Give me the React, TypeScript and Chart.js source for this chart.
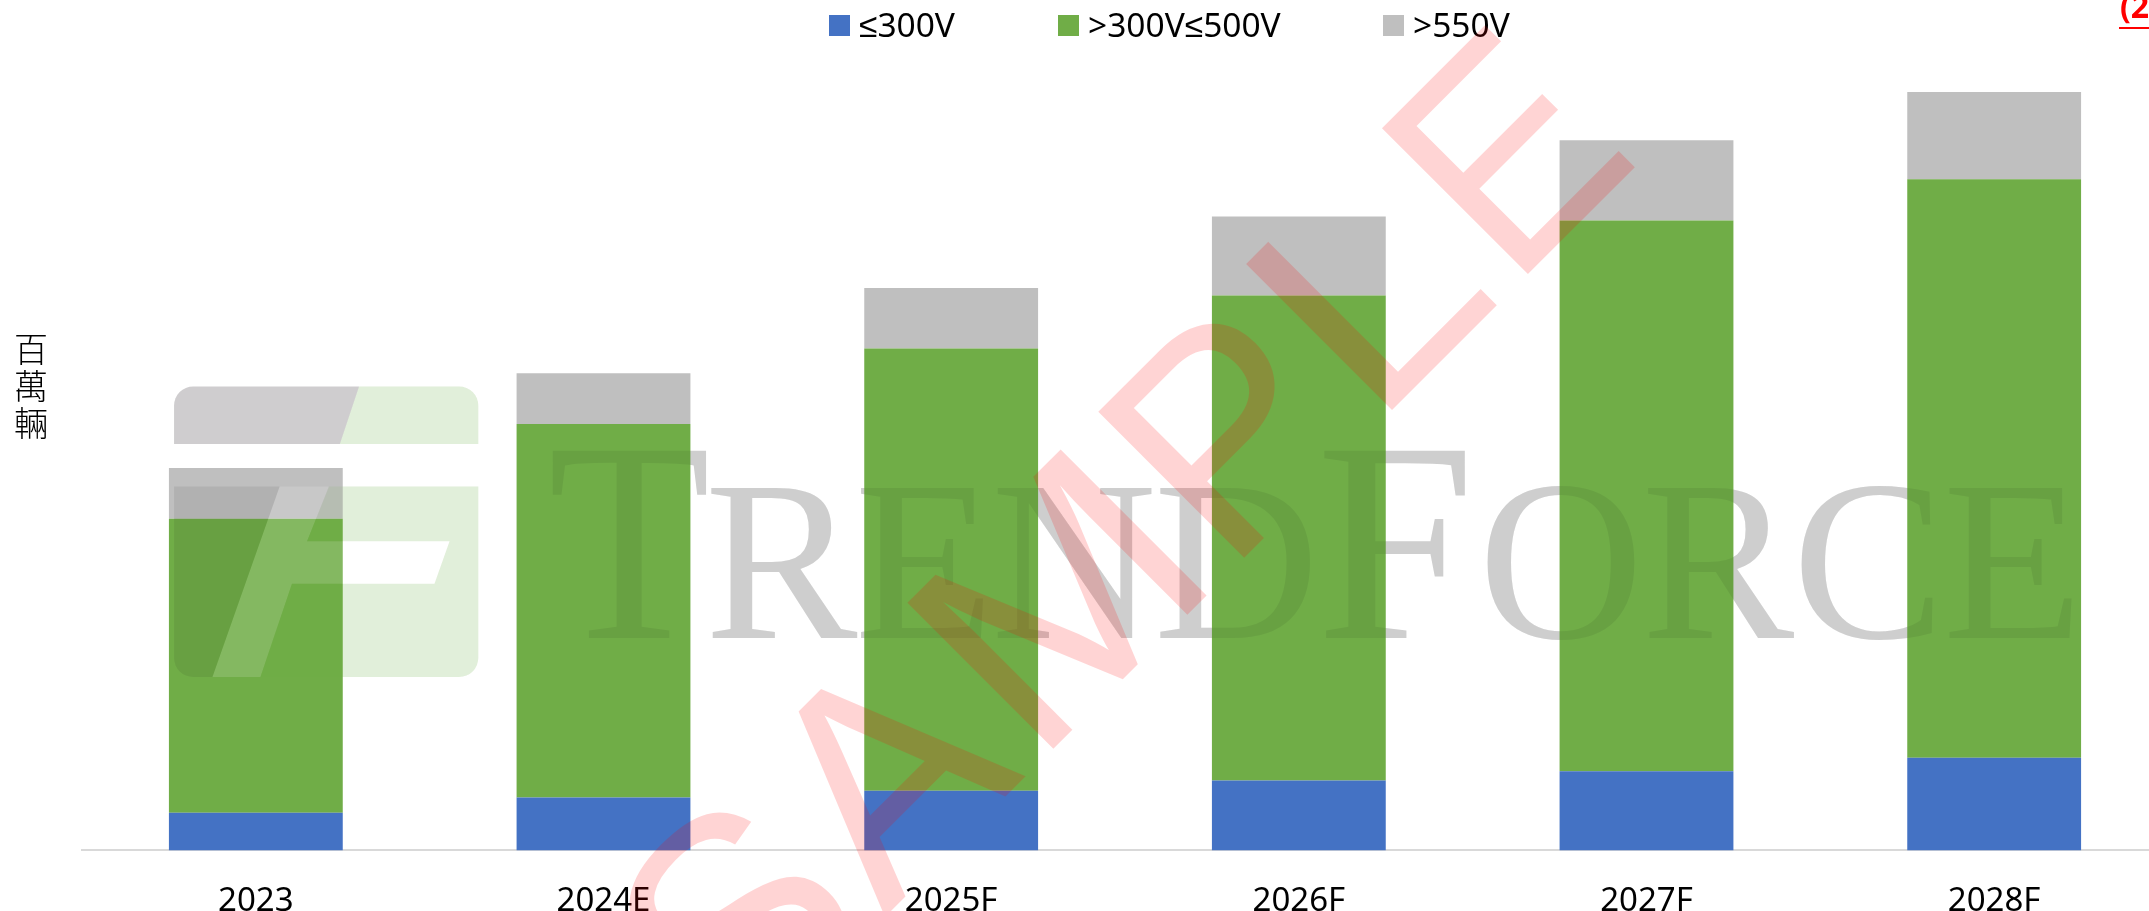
import React, { useEffect, useRef } from "react";
import { Chart, registerables } from "chart.js";

Chart.register(...registerables);

const categories = ["2023", "2024E", "2025F", "2026F", "2027F", "2028F"];
const low = [1.49, 2.09, 2.36, 2.77, 3.13, 3.67];
const mid = [11.63, 14.78, 17.5, 19.18, 21.79, 22.88];
const high = [2.01, 2.01, 2.39, 3.13, 3.18, 3.45];
const seriesNames = ["≤300V", ">300V≤500V", ">550V"];
const seriesColors = ["#4472c4", "#70ad47", "#bfbfbf"];
const axisTitle = ["百", "萬", "輛"];
const brand = ["T", "REND", "F", "ORCE"];
const stamp = ["S", "A", "M", "P", "L", "E"];
const clippedNote = "(2";

const SANS = '"Noto Sans", sans-serif';
const S = 2149 / 1568;

function poly(ctx: CanvasRenderingContext2D, pts: number[][], fill: string) {
  // points are [x, y, cornerRadius?] in the shrunk picture's units
  const n = pts.length;
  ctx.beginPath();
  const start = pts[0];
  const prev = pts[n - 1];
  ctx.moveTo(((start[0] + prev[0]) / 2) * S, ((start[1] + prev[1]) / 2) * S);
  for (let i = 0; i < n; i++) {
    const a = pts[i];
    const b = pts[(i + 1) % n];
    ctx.arcTo(a[0] * S, a[1] * S, ((a[0] + b[0]) / 2) * S, ((a[1] + b[1]) / 2) * S, (a[2] || 0) * S);
  }
  ctx.closePath();
  ctx.fillStyle = fill;
  ctx.fill();
}

const logoGrayShapes = [
  [[127, 282, 14], [262, 282], [248, 324], [127, 324]],
  [[127, 355], [204, 355], [155, 494], [127, 494, 14]],
];
const logoGreenShapes = [
  [[262, 282], [349, 282, 14], [349, 324], [248, 324]],
  [[240, 355], [349, 355], [349, 494, 14], [190, 494], [213, 426], [317, 426], [328, 395], [224, 395]],
];
const logoStem = [[204, 355], [240, 355], [224, 395], [328, 395], [317, 426], [213, 426], [190, 494], [155, 494]];

function drawBrand(ctx: CanvasRenderingContext2D) {
  const tweak = [0, -14, -10, -3];
  const spacing = ["0px", "-3px", "0px", "-2px"];
  let x = 548;
  brand.forEach((t, i) => {
    const big = t.length === 1;
    ctx.font = `${big ? 286 : 229}px "Liberation Serif"`;
    (ctx as any).letterSpacing = "-4px";
    const adv = ctx.measureText(t).width;
    (ctx as any).letterSpacing = spacing[i];
    if (i === 0) {
      ctx.save();
      ctx.translate(x, 638);
      ctx.scale(0.93, 1);
      ctx.fillText(t, 0, 0);
      ctx.restore();
    } else {
      ctx.fillText(t, x + tweak[i], 638);
    }
    x += adv;
  });
  (ctx as any).letterSpacing = "0px";
}

const extras = {
  id: "extras",
  beforeDatasetsDraw(chart: any) {
    const ctx: CanvasRenderingContext2D = chart.ctx;
    ctx.save();
    logoGreenShapes.forEach((s) => poly(ctx, s, "rgba(112,173,71,0.11)"));
    ctx.globalCompositeOperation = "multiply";
    logoGrayShapes.forEach((s) => poly(ctx, s, "rgb(224,222,224)"));
    ctx.fillStyle = "rgb(222,222,222)";
    ctx.textBaseline = "alphabetic";
    drawBrand(ctx);
    ctx.restore();
  },
  afterDraw(chart: any) {
    const ctx: CanvasRenderingContext2D = chart.ctx;
    ctx.save();
    // legend
    const xs = [829, 1058, 1383];
    ctx.font = `33.5px ${SANS}`;
    ctx.textBaseline = "middle";
    ctx.textAlign = "left";
    chart.data.datasets.forEach((d: any, i: number) => {
      ctx.fillStyle = d.backgroundColor;
      ctx.fillRect(xs[i], 15, 21, 21);
      ctx.fillStyle = "#000";
      ctx.fillText(d.label, xs[i] + 30, 27);
    });
    // stacked axis title
    ctx.font = `300 34px "Noto Sans CJK TC"`;
    ctx.textAlign = "center";
    ctx.fillStyle = "#000";
    axisTitle.forEach((c, i) => ctx.fillText(c, 31, 349 + i * 37));
    // clipped red note
    ctx.font = `bold 32px ${SANS}`;
    ctx.textAlign = "left";
    ctx.textBaseline = "alphabetic";
    ctx.fillStyle = "#f00";
    ctx.fillText(clippedNote, 2120, 18);
    ctx.fillRect(2119, 27, 31, 2);
    // logo and brand over the bars
    logoGreenShapes.forEach((s) => poly(ctx, s, "rgba(112,173,71,0.1)"));
    poly(ctx, logoStem, "rgba(255,255,255,0.14)");
    ctx.globalCompositeOperation = "multiply";
    logoGrayShapes.forEach((s) => poly(ctx, s, "rgb(236,236,236)"));
    ctx.fillStyle = "rgb(237,237,237)";
    drawBrand(ctx);
    ctx.globalCompositeOperation = "source-over";
    // stamp
    ctx.translate(1528, 274);
    ctx.rotate(-Math.PI / 4);
    ctx.font = `300px "Liberation Sans"`;
    ctx.textAlign = "left";
    ctx.fillStyle = "rgba(255,0,0,0.17)";
    const gap = 30;
    const shift = [72, 50, 32, 24, 0, 0];
    const stretch = [1, 1, 1.08, 1, 1.12, 0.93];
    let pos = 0;
    const lefts = stamp.map((c) => {
      const at = pos;
      pos += ctx.measureText(c).width + gap;
      return at;
    });
    const origin = lefts[5] + 23;
    stamp.forEach((c, i) => {
      ctx.save();
      ctx.translate(lefts[i] - origin + shift[i], 0);
      ctx.scale(stretch[i], 1);
      ctx.fillText(c, 0, 0);
      ctx.restore();
    });
    ctx.restore();
  },
};

export default function App() {
  const ref = useRef<HTMLCanvasElement>(null);
  useEffect(() => {
    document.body.style.margin = "0";
    const chart = new Chart(ref.current!, {
      type: "bar",
      data: {
        labels: categories,
        datasets: [low, mid, high].map((data, i) => ({
          label: seriesNames[i],
          data,
          backgroundColor: seriesColors[i],
          barPercentage: 1,
          categoryPercentage: 0.5,
        })),
      },
      options: {
        responsive: false,
        animation: false,
        layout: { padding: { left: 82, top: 60, right: 0, bottom: 0 } },
        plugins: { legend: { display: false }, tooltip: { enabled: false } },
        scales: {
          x: {
            stacked: true,
            grid: { display: false },
            border: { color: "#d9d9d9", width: 2 },
            ticks: { color: "#000", font: { size: 33, family: SANS }, padding: 23, maxRotation: 0 },
          },
          y: { stacked: true, display: false, min: 0, max: 31.27 },
        },
      },
      plugins: [extras],
    });
    return () => chart.destroy();
  }, []);
  return (
    <div style={{ width: 2149, height: 911, overflow: "hidden" }}>
      <canvas ref={ref} width={2168} height={944} style={{ display: "block" }} />
    </div>
  );
}
